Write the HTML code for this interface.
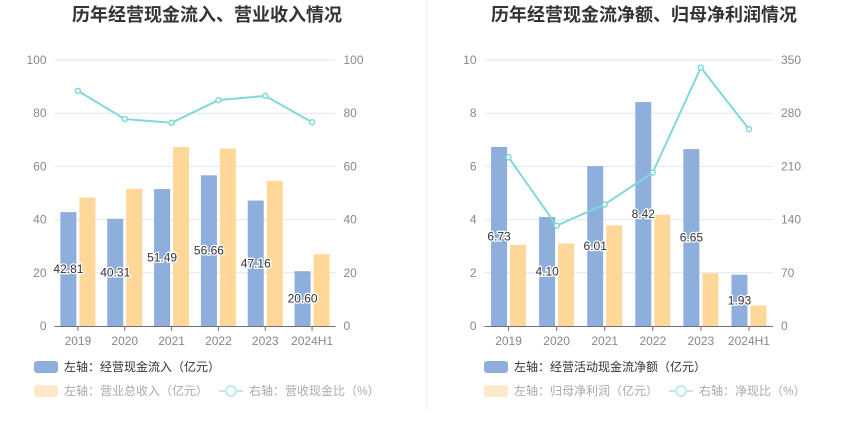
<!DOCTYPE html>
<html><head><meta charset="utf-8">
<style>
body{margin:0;background:#fff;width:850px;height:437px;overflow:hidden;font-family:"Liberation Sans","Noto Sans CJK SC",sans-serif;}
svg text{font-family:"Liberation Sans","Noto Sans CJK SC",sans-serif;}
</style></head>
<body>
<svg id="c" width="850" height="437">
  <line x1="427" y1="0" x2="427" y2="410" stroke="#f0f0f0"/>
  <text x="207" y="21" text-anchor="middle" font-size="18" font-weight="bold" fill="#333">历年经营现金流入、营业收入情况</text>
  <text x="644" y="21" text-anchor="middle" font-size="18" font-weight="bold" fill="#333">历年经营现金流净额、归母净利润情况</text>
  <g>
    <rect x="34" y="361" width="24" height="12" rx="3" fill="#8eaedb"/>
    <text x="64" y="371" font-size="12" fill="#333">左轴：经营现金流入（亿元）</text>
    <rect x="34" y="385" width="24" height="12" rx="3" fill="#fde9c9"/>
    <text x="64" y="395" font-size="12" fill="#aaa">左轴：营业总收入（亿元）</text>
    <line x1="219" y1="391" x2="243" y2="391" stroke="#bfe9ea" stroke-width="2"/>
    <circle cx="231" cy="391" r="5" fill="#fff" stroke="#bfe9ea" stroke-width="2"/>
    <text x="249" y="395" font-size="12" fill="#aaa">右轴：营收现金比（%）</text>
  </g>
  <g>
    <rect x="484" y="361" width="24" height="12" rx="3" fill="#8eaedb"/>
    <text x="514" y="371" font-size="12" fill="#333">左轴：经营活动现金流净额（亿元）</text>
    <rect x="484" y="385" width="24" height="12" rx="3" fill="#fde9c9"/>
    <text x="514" y="395" font-size="12" fill="#aaa">左轴：归母净利润（亿元）</text>
    <line x1="669" y1="391" x2="693" y2="391" stroke="#bfe9ea" stroke-width="2"/>
    <circle cx="681" cy="391" r="5" fill="#fff" stroke="#bfe9ea" stroke-width="2"/>
    <text x="699" y="395" font-size="12" fill="#aaa">右轴：净现比（%）</text>
  </g>
</svg>
<script>
const categories = ["2019","2020","2021","2022","2023","2024H1"];
const leftBlue = [42.81,40.31,51.49,56.66,47.16,20.60];
const leftOrange = [48.3,51.6,67.3,66.7,54.6,27.0];
const leftLine = [88.4,77.8,76.4,84.9,86.5,76.6];
const leftTicks = [0,20,40,60,80,100];
const leftRightTicks = [0,20,40,60,80,100];
const rightBlue = [6.73,4.10,6.01,8.42,6.65,1.93];
const rightOrange = [3.05,3.10,3.78,4.18,1.98,0.77];
const rightLine = [222,132,160,202,340,259];
const rightTicks = [0,2,4,6,8,10];
const rightRightTicks = [0,70,140,210,280,350];

const NS="http://www.w3.org/2000/svg";
const svg=document.getElementById('c');
function mk(tag,attrs,parent){const e=document.createElementNS(NS,tag);for(const k in attrs)e.setAttribute(k,attrs[k]);(parent||svg).appendChild(e);return e;}

function chart(prefix,x0,x1,blue,orange,line,lt,rt){
  const y0=326,yt=60;
  const lmax=lt[lt.length-1], rmax=rt[rt.length-1];
  const yL=v=>y0-(v/lmax)*(y0-yt);
  const yR=v=>y0-(v/rmax)*(y0-yt);
  const band=(x1-x0)/categories.length;
  const cx=i=>x0+band*(i+0.5);
  const g=mk('g',{});
  
  
  lt.forEach((t,i)=>{
    const y=yL(t);
    if(i>0){const gl=mk('line',{x1:x0,x2:x1,y1:y,y2:y,stroke:'#e0e6f1'},g);
      
      }
    const tx=mk('text',{x:x0-8,y:y+4,'text-anchor':'end','font-size':12,fill:'#888'},g);
    tx.textContent=t;
    
    
  });
  rt.forEach(t=>{
    const tx=mk('text',{x:x1+8,y:yR(t)+4,'font-size':12,fill:'#888'},g);
    tx.textContent=t;
    
    
  });
  const bw=16;
  categories.forEach((c,i)=>{
    const b=mk('rect',{x:cx(i)-bw-1.5,y:yL(blue[i]),width:bw,height:y0-yL(blue[i]),fill:'#8eaedb'},g);
    
    
    const o=mk('rect',{x:cx(i)+1.5,y:yL(orange[i]),width:bw,height:y0-yL(orange[i]),fill:'#ffd899'},g);
    
    
  });
  mk('line',{x1:x0,x2:x1,y1:y0+0.5,y2:y0+0.5,stroke:'#6e7079'},g);
  categories.forEach((c,i)=>{
    mk('line',{x1:cx(i),x2:cx(i),y1:y0,y2:y0+5,stroke:'#6e7079'},g);
    const tx=mk('text',{x:cx(i),y:y0+19,'text-anchor':'middle','font-size':12,fill:'#888'},g);
    tx.textContent=c;
    
    
  });
  const pts=line.map((v,i)=>cx(i)+','+yR(v)).join(' ');
  const pl=mk('polyline',{points:pts,fill:'none',stroke:'#80d8d9','stroke-width':2},g);
  
  
  line.forEach((v,i)=>{
    const p=mk('circle',{cx:cx(i),cy:yR(v),r:2.5,fill:'#fff',stroke:'#80d8d9','stroke-width':1.5},g);
    
    
  });
  blue.forEach((v,i)=>{
    const yy=(yL(v)+y0)/2+4;
    const tx=mk('text',{x:cx(i)-bw/2-1.5,y:yy,'text-anchor':'middle','font-size':12,fill:'#333',stroke:'#fff','stroke-width':2.5,'paint-order':'stroke'},g);
    tx.textContent=v.toFixed(2);
    
    
  });
}
chart('left',54.5,335.5,leftBlue,leftOrange,leftLine,leftTicks,leftRightTicks);
chart('right',484.5,773,rightBlue,rightOrange,rightLine,rightTicks,rightRightTicks);
</script>
</body></html>
